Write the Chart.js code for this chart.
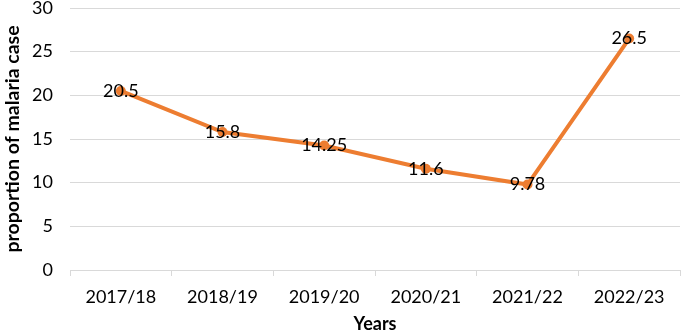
<!DOCTYPE html>
<html>
<head>
<meta charset="utf-8">
<script src="https://cdn.jsdelivr.net/npm/chart.js@4.4.1/dist/chart.umd.min.js"></script>
<style>
html,body{margin:0;padding:0;background:#fff;}
#wrap{width:685px;height:335px;position:relative;}
</style>
</head>
<body>
<div id="wrap"><canvas id="c" width="685" height="335"></canvas></div>
<script>
const categories = ["2017/18","2018/19","2019/20","2020/21","2021/22","2022/23"];
const values = [20.5, 15.8, 14.25, 11.6, 9.78, 26.5];
const valueLabels = ["20.5","15.8","14.25","11.6","9.78","26.5"];
const yTicks = [0,5,10,15,20,25,30];

const FONT = "Lato, 'Open Sans', sans-serif";

const labelPlugin = {
  id: 'pointLabels',
  afterDatasetsDraw(chart) {
    const ctx = chart.ctx;
    const meta = chart.getDatasetMeta(0);
    ctx.save();
    ctx.font = "18px " + FONT;
    ctx.fillStyle = "#000";
    ctx.textAlign = "center";
    ctx.textBaseline = "middle";
    meta.data.forEach((pt, i) => {
      ctx.fillText(valueLabels[i], pt.x, pt.y);
    });
    ctx.restore();
  }
};

new Chart(document.getElementById('c'), {
  type: 'line',
  data: {
    labels: categories,
    datasets: [{
      data: values,
      borderColor: '#ED7D31',
      backgroundColor: '#ED7D31',
      borderWidth: 4,
      pointRadius: 5,
      pointBackgroundColor: '#ED7D31',
      pointBorderWidth: 0,
      tension: 0
    }]
  },
  options: {
    responsive: false,
    animation: false,
    layout: { padding: { left: 0, right: 3, top: 8, bottom: 0 } },
    plugins: { legend: { display: false }, tooltip: { enabled: false } },
    scales: {
      x: {
        offset: true,
        afterFit(scale) { scale.height = 65; scale.paddingLeft = 0; scale.paddingRight = 0; },
        grid: { offset: true, drawOnChartArea: false, drawTicks: true, tickLength: 6, color: '#d9d9d9' },
        border: { display: true, color: '#d9d9d9', width: 1 },
        ticks: { color: '#000', font: { family: FONT, size: 18 }, padding: 10, maxRotation: 0 },
        title: { display: true, text: 'Years', color: '#000', font: { family: FONT, size: 18, weight: 'bold' }, padding: { top: 0, bottom: 0 } }
      },
      y: {
        min: 0, max: 30,
        afterBuildTicks(scale) { scale.ticks = yTicks.map(v => ({ value: v })); },
        afterFit(scale) { scale.width = 70; scale.paddingTop = 0; scale.paddingBottom = 0; },
        grid: { color: '#d9d9d9', drawTicks: false },
        border: { display: false },
        ticks: { color: '#000', font: { family: FONT, size: 18 }, padding: 17 },
        title: { display: true, text: 'proportion of malaria case', color: '#000', font: { family: FONT, size: 19.5, weight: 'bold' }, padding: { top: 1, bottom: 0 } }
      }
    }
  },
  plugins: [labelPlugin]
});
</script>
</body>
</html>
